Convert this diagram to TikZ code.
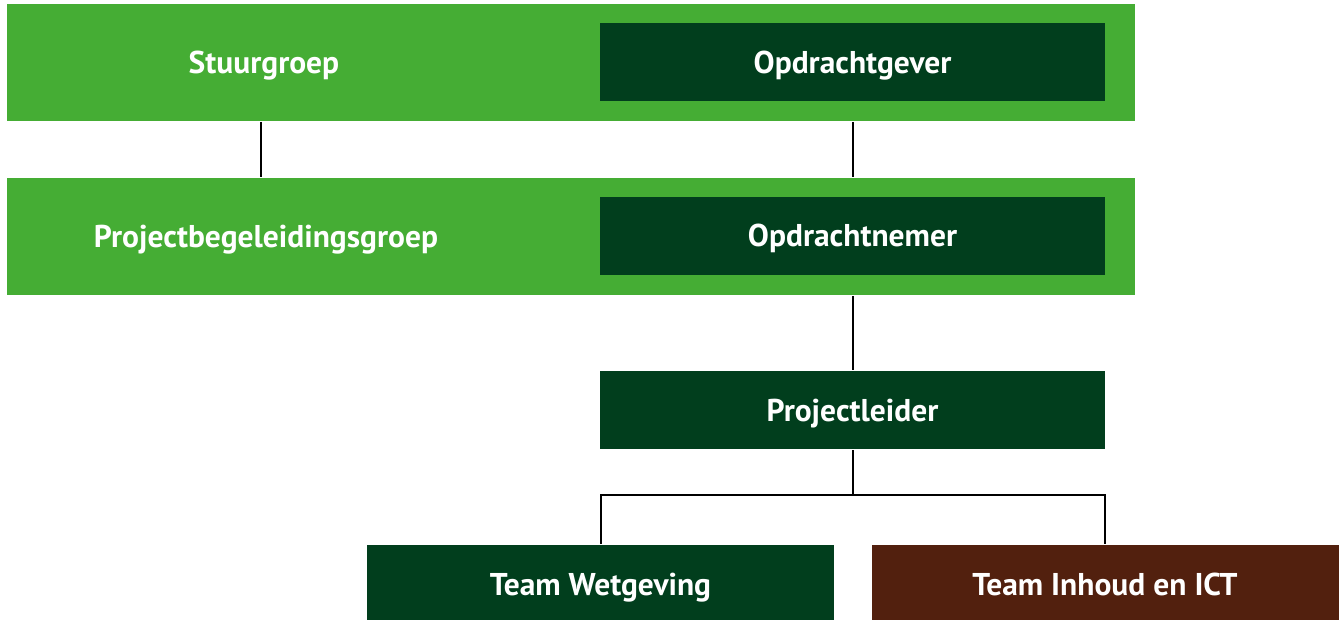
\documentclass[tikz,border=0pt]{standalone}
\usepackage{fontspec}
\setmainfont{PT Sans}
\usepackage{xcolor}
\usetikzlibrary{positioning}
\definecolor{lichtgroen}{RGB}{69,173,52}
\definecolor{donkergroen}{RGB}{1,62,29}
\definecolor{bruin}{RGB}{82,32,14}

\begin{document}
\begin{tikzpicture}[x=1pt,y=-1pt,line width=2pt,
		band/.style={fill=lichtgroen,minimum width=1128pt,minimum height=117pt,inner sep=0pt},
		rol/.style={fill=donkergroen,text=white,font=\fontsize{31.5}{36}\selectfont\bfseries,text height=22pt,text depth=0pt,minimum width=505pt,minimum height=78pt,inner sep=0pt},
		team/.style={rol,minimum width=467pt,minimum height=78pt},
		label/.style={text=white,font=\fontsize{31.5}{36}\selectfont\bfseries,text height=22pt,text depth=0pt,inner sep=0pt}]
			\useasboundingbox (0,0) rectangle (1341,620);
			\node[band] (b1) at (571,62.5) {};
			\node[band] (b2) at (571,236.5) {};
			\node[rol] (og) at (852.5,62.5) {Opdrachtgever};
			\node[rol] (on) at (852.5,236) {Opdrachtnemer};
			\node[rol] (pl) at (852.5,410) {Projectleider};
			\node[team] (tw) at (600.5,584) {Team Wetgeving};
			\node[team,fill=bruin] (ti) at (1105,584) {Team Inhoud en ICT};
			\node[label] (sg) at (264,62.5) {Stuurgroep};
			\node[label] (pbg) at (266,236.5) {Projectbegeleidingsgroep};
			\coordinate (split) at (852.5,495);
	
			\draw 	([xshift=-3pt]sg |- b1.south) -- ([xshift=-3pt]sg |- b2.north)
					(og |- b1.south) -- (on |- b2.north)
					(on |- b2.south) -- (pl.north)
					(pl.south) -- (split)
					(tw.north) |- (split) -| (ti.north);
			\end{tikzpicture}
\end{document}
